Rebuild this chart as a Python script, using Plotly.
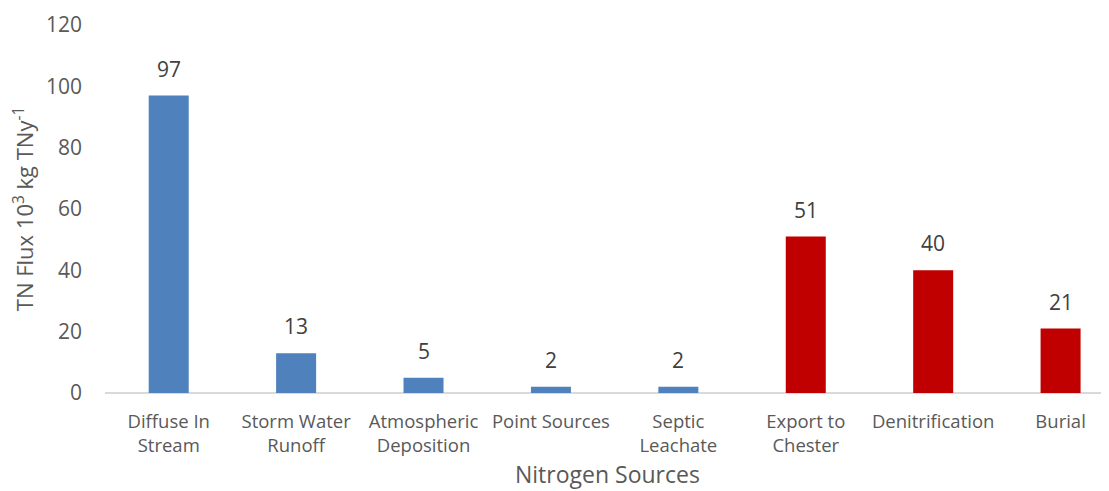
import plotly.graph_objects as go

categories = ["Diffuse In<br>Stream", "Storm Water<br>Runoff", "Atmospheric<br>Deposition",
              "Point Sources", "Septic<br>Leachate", "Export to<br>Chester", "Denitrification", "Burial"]
values = [97, 13, 5, 2, 2, 51, 40, 21]
bar_colors = ["#4F81BD"] * 5 + ["#C00000"] * 3
y_ticks = [0, 20, 40, 60, 80, 100, 120]

FONT = "Open Sans"
GREY = "#595959"

fig = go.Figure()
fig.add_trace(go.Bar(
    x=list(range(len(categories))), y=values,
    marker=dict(color=bar_colors, line=dict(width=0)),
    hoverinfo="skip",
))

for i, v in enumerate(values):
    fig.add_annotation(x=i, y=v, text=str(v), showarrow=False, yanchor="bottom",
                       yshift=11, font=dict(family=FONT, size=21, color="#404040"))

# x-axis title placed as a paper annotation below the category labels
fig.add_annotation(xref="paper", yref="paper", x=0.5, y=0, yanchor="middle", yshift=-81,
                   text="Nitrogen Sources", showarrow=False, borderpad=0,
                   font=dict(family=FONT, size=23, color=GREY))

# page body has an 8px margin, so the figure is sized to fill the rest of the window
fig.update_layout(
    width=1101, height=483,
    margin=dict(l=97, r=0, t=17, b=98),
    paper_bgcolor="white", plot_bgcolor="white",
    bargap=0.686,
    showlegend=False,
    font=dict(family=FONT, color=GREY),
    xaxis=dict(
        tickmode="array", tickvals=list(range(len(categories))), ticktext=categories,
        range=[-0.5, 7.38], showgrid=False, zeroline=False, automargin=False,
        showline=False, ticks="", ticklabelstandoff=15, tickfont=dict(size=18.5, color=GREY),
    ),
    yaxis=dict(
        range=[0, 120], tickvals=y_ticks, showgrid=False, automargin=False,
        zeroline=True, zerolinecolor="#D9D9D9", zerolinewidth=2,
        showline=False, ticks="", ticklen=0, ticklabelstandoff=22,
        tickfont=dict(size=21, color=GREY),
        title=dict(text="TN Flux 10<sup>3</sup> kg TNy<sup>-1</sup>", font=dict(size=22, color=GREY), standoff=6),
    ),
)

fig.write_html("out.html")
